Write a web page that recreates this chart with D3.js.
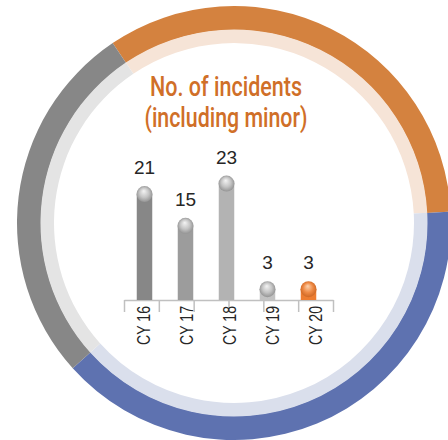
<!DOCTYPE html>
<html>
<head>
<meta charset="utf-8">
<script src="https://cdn.jsdelivr.net/npm/d3@7"></script>
<style>
  html, body { margin: 0; padding: 0; background: #fff; }
  svg { display: block; }
</style>
</head>
<body>
<svg id="chart" width="448" height="440"></svg>
<script>
// chart data
const years = ["CY 16", "CY 17", "CY 18", "CY 19", "CY 20"];
const incidents = [21, 15, 23, 3, 3];
const titleLines = ["No. of incidents", "(including minor)"];
// decorative ring split (degrees): orange, blue, grey
const ringShares = [121, 141, 98];

const barColors = ["#878787", "#9c9c9c", "#b3b3b3", "#c2c2c2", "#ed7d31"];
const ringColors = ["#d4823f", "#5e72b0", "#878787"];
const bandColors = ["#f6e4d7", "#dadfec", "#e4e4e4"];

const svg = d3.select("#chart");
const cx = 234, cy = 223;

// ring
const pie = d3.pie().sort(null)
  .startAngle(-34 * Math.PI / 180)
  .endAngle(326 * Math.PI / 180);
const arcs = pie(ringShares);
const ring = svg.append("g").attr("transform", `translate(${cx}, ${cy})`);
ring.selectAll(".outer").data(arcs).enter().append("path")
  .attr("class", "outer")
  .attr("fill", (d, i) => ringColors[i])
  .attr("d", d3.arc().innerRadius(193).outerRadius(217));
ring.selectAll(".band").data(arcs).enter().append("path")
  .attr("class", "band")
  .attr("fill", (d, i) => bandColors[i])
  .attr("d", d3.arc().innerRadius(180).outerRadius(193.5));

// title (narrow font not installed, so squeeze to the source widths)
const titleWidths = [152, 163];
svg.append("g").selectAll("text").data(titleLines).enter().append("text")
  .attr("x", 226)
  .attr("y", (d, i) => 96 + i * 30.5)
  .attr("text-anchor", "middle")
  .attr("font-family", "Roboto, 'Liberation Sans', sans-serif")
  .attr("font-size", 27)
  .attr("font-weight", 500)
  .attr("fill", "#d06f28")
  .attr("textLength", (d, i) => titleWidths[i])
  .attr("lengthAdjust", "spacingAndGlyphs")
  .text(d => d);

// gradients for the ball caps
const defs = svg.append("defs");
function ballGradient(id, c0, c1, c2) {
  const g = defs.append("radialGradient").attr("id", id)
    .attr("cx", "50%").attr("cy", "50%").attr("r", "55%")
    .attr("fx", "45%").attr("fy", "30%");
  g.append("stop").attr("offset", "0%").attr("stop-color", c0);
  g.append("stop").attr("offset", "55%").attr("stop-color", c1);
  g.append("stop").attr("offset", "100%").attr("stop-color", c2);
}
ballGradient("ballGrey", "#f4f4f4", "#c4c4c4", "#8c8c8c");
ballGradient("ballOrange", "#fbd3b0", "#ef8a45", "#c9621f");

const baseY = 300;
const x = d3.scaleBand().domain(years).range([124, 329]);
const y = d3.scaleLinear().domain([0, 25]).range([baseY, 168]);
const barW = 15.5, capR = 8;

const g = svg.append("g");

// axis line + ticks (7 evenly spaced tick marks like the source)
const tickScale = d3.scaleLinear().domain([0, 6]).range([124, 333]);
const axis = g.append("g")
  .attr("transform", `translate(0, ${baseY})`)
  .call(d3.axisBottom(tickScale).ticks(6).tickSize(12).tickSizeOuter(0).tickFormat(""));
axis.select(".domain").attr("stroke", "#c0c0c0").attr("stroke-width", 1.5);
axis.selectAll(".tick line").attr("stroke", "#c0c0c0").attr("stroke-width", 1.5);

// bars
const bar = g.selectAll(".bar").data(incidents).enter().append("g")
  .attr("class", "bar")
  .attr("transform", (d, i) => `translate(${x(years[i]) + x.bandwidth() / 2}, 0)`);

bar.append("rect")
  .attr("x", -barW / 2)
  .attr("y", d => y(d) + 5)
  .attr("width", barW)
  .attr("height", d => baseY - y(d) - 5)
  .attr("fill", (d, i) => barColors[i]);

bar.append("circle")
  .attr("cx", 0)
  .attr("cy", d => y(d) + 5)
  .attr("r", capR)
  .attr("fill", (d, i) => i === years.length - 1 ? "url(#ballOrange)" : "url(#ballGrey)");

bar.append("text")
  .attr("y", d => y(d) - 15)
  .attr("text-anchor", "middle")
  .attr("font-family", "'Liberation Sans', Arial, sans-serif")
  .attr("font-size", 19)
  .attr("fill", "#262626")
  .text(d => d);

// category labels, rotated
const labelX = d3.scalePoint().domain(years).range([144, 316]);
g.selectAll(".cat").data(years).enter().append("text")
  .attr("class", "cat")
  .attr("transform", d => `translate(${labelX(d)}, 306) rotate(-90)`)
  .attr("text-anchor", "end")
  .attr("dy", "0.36em")
  .attr("font-family", "'Liberation Sans', Arial, sans-serif")
  .attr("font-size", 18)
  .attr("textLength", 39)
  .attr("lengthAdjust", "spacingAndGlyphs")
  .attr("fill", "#262626")
  .text(d => d);
</script>
</body>
</html>
